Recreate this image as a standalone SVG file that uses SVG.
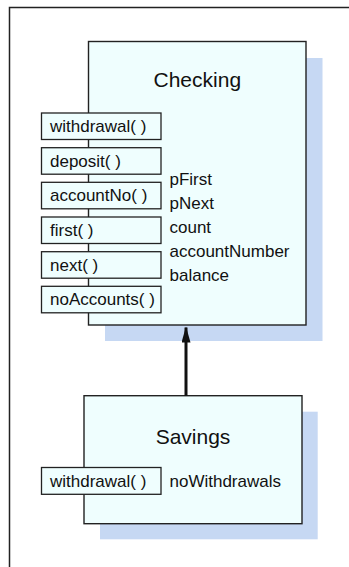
<svg xmlns="http://www.w3.org/2000/svg" width="349" height="567" viewBox="0 0 349 567">
<defs>
<style>
.shadow{fill:#c6d8f3;stroke:none}
.box{fill:#effefe;stroke:#222;stroke-width:1.4}
.m{fill:#effefe;stroke:#222;stroke-width:1.3}
.t{font-family:"Liberation Sans",Arial,sans-serif;font-size:17px;fill:#111}
.title{font-family:"Liberation Sans",Arial,sans-serif;font-size:21px;fill:#111;text-anchor:middle}
</style>
<marker id="ah" markerWidth="16" markerHeight="9" refX="15" refY="4.5" orient="auto" markerUnits="userSpaceOnUse" viewBox="0 0 16 9">
<path d="M0,0 L16,4.5 L0,9 Z" fill="#111"/>
</marker>
</defs>
<rect x="0" y="0" width="349" height="567" fill="#fff"/>
<path d="M9.5,580 L9.5,7.5 L360,7.5" fill="none" stroke="#222" stroke-width="1.5"/>
<g id="checking">
<rect class="shadow" x="105" y="58" width="217.5" height="283"/>
<rect class="box" x="88.5" y="41.5" width="217.5" height="283.5"/>
<text class="title" x="197.3" y="87">Checking</text>
<rect class="m" x="41.5" y="113" width="119.5" height="26.5"/>
<text class="t" x="50" y="131.8">withdrawal( )</text>
<rect class="m" x="41.5" y="147.7" width="119.5" height="26.5"/>
<text class="t" x="50" y="166.5">deposit( )</text>
<rect class="m" x="41.5" y="182.3" width="119.5" height="26.5"/>
<text class="t" x="50" y="201.1">accountNo( )</text>
<rect class="m" x="41.5" y="217" width="119.5" height="26.5"/>
<text class="t" x="50" y="235.8">first( )</text>
<rect class="m" x="41.5" y="251.7" width="119.5" height="26.5"/>
<text class="t" x="50" y="270.5">next( )</text>
<rect class="m" x="41.5" y="286.3" width="119.5" height="26.5"/>
<text class="t" x="50" y="305.1">noAccounts( )</text>
<text class="t" x="169.5" y="185">pFirst</text>
<text class="t" x="169.5" y="209">pNext</text>
<text class="t" x="169.5" y="233">count</text>
<text class="t" x="169.5" y="257">accountNumber</text>
<text class="t" x="169.5" y="281">balance</text>
</g>
<g id="savings">
<rect class="shadow" x="100" y="411.7" width="217.7" height="127.6"/>
<rect class="box" x="84" y="395.7" width="218" height="128"/>
<text class="title" x="193" y="443.5">Savings</text>
<rect class="m" x="41.5" y="467.5" width="119.5" height="26.8"/>
<text class="t" x="50" y="486.5">withdrawal( )</text>
<text class="t" x="169.5" y="486.7">noWithdrawals</text>
</g>
<g id="connectors">
<line x1="186" y1="395.7" x2="186" y2="327.5" stroke="#111" stroke-width="3" marker-end="url(#ah)"/>
</g>
</svg>
